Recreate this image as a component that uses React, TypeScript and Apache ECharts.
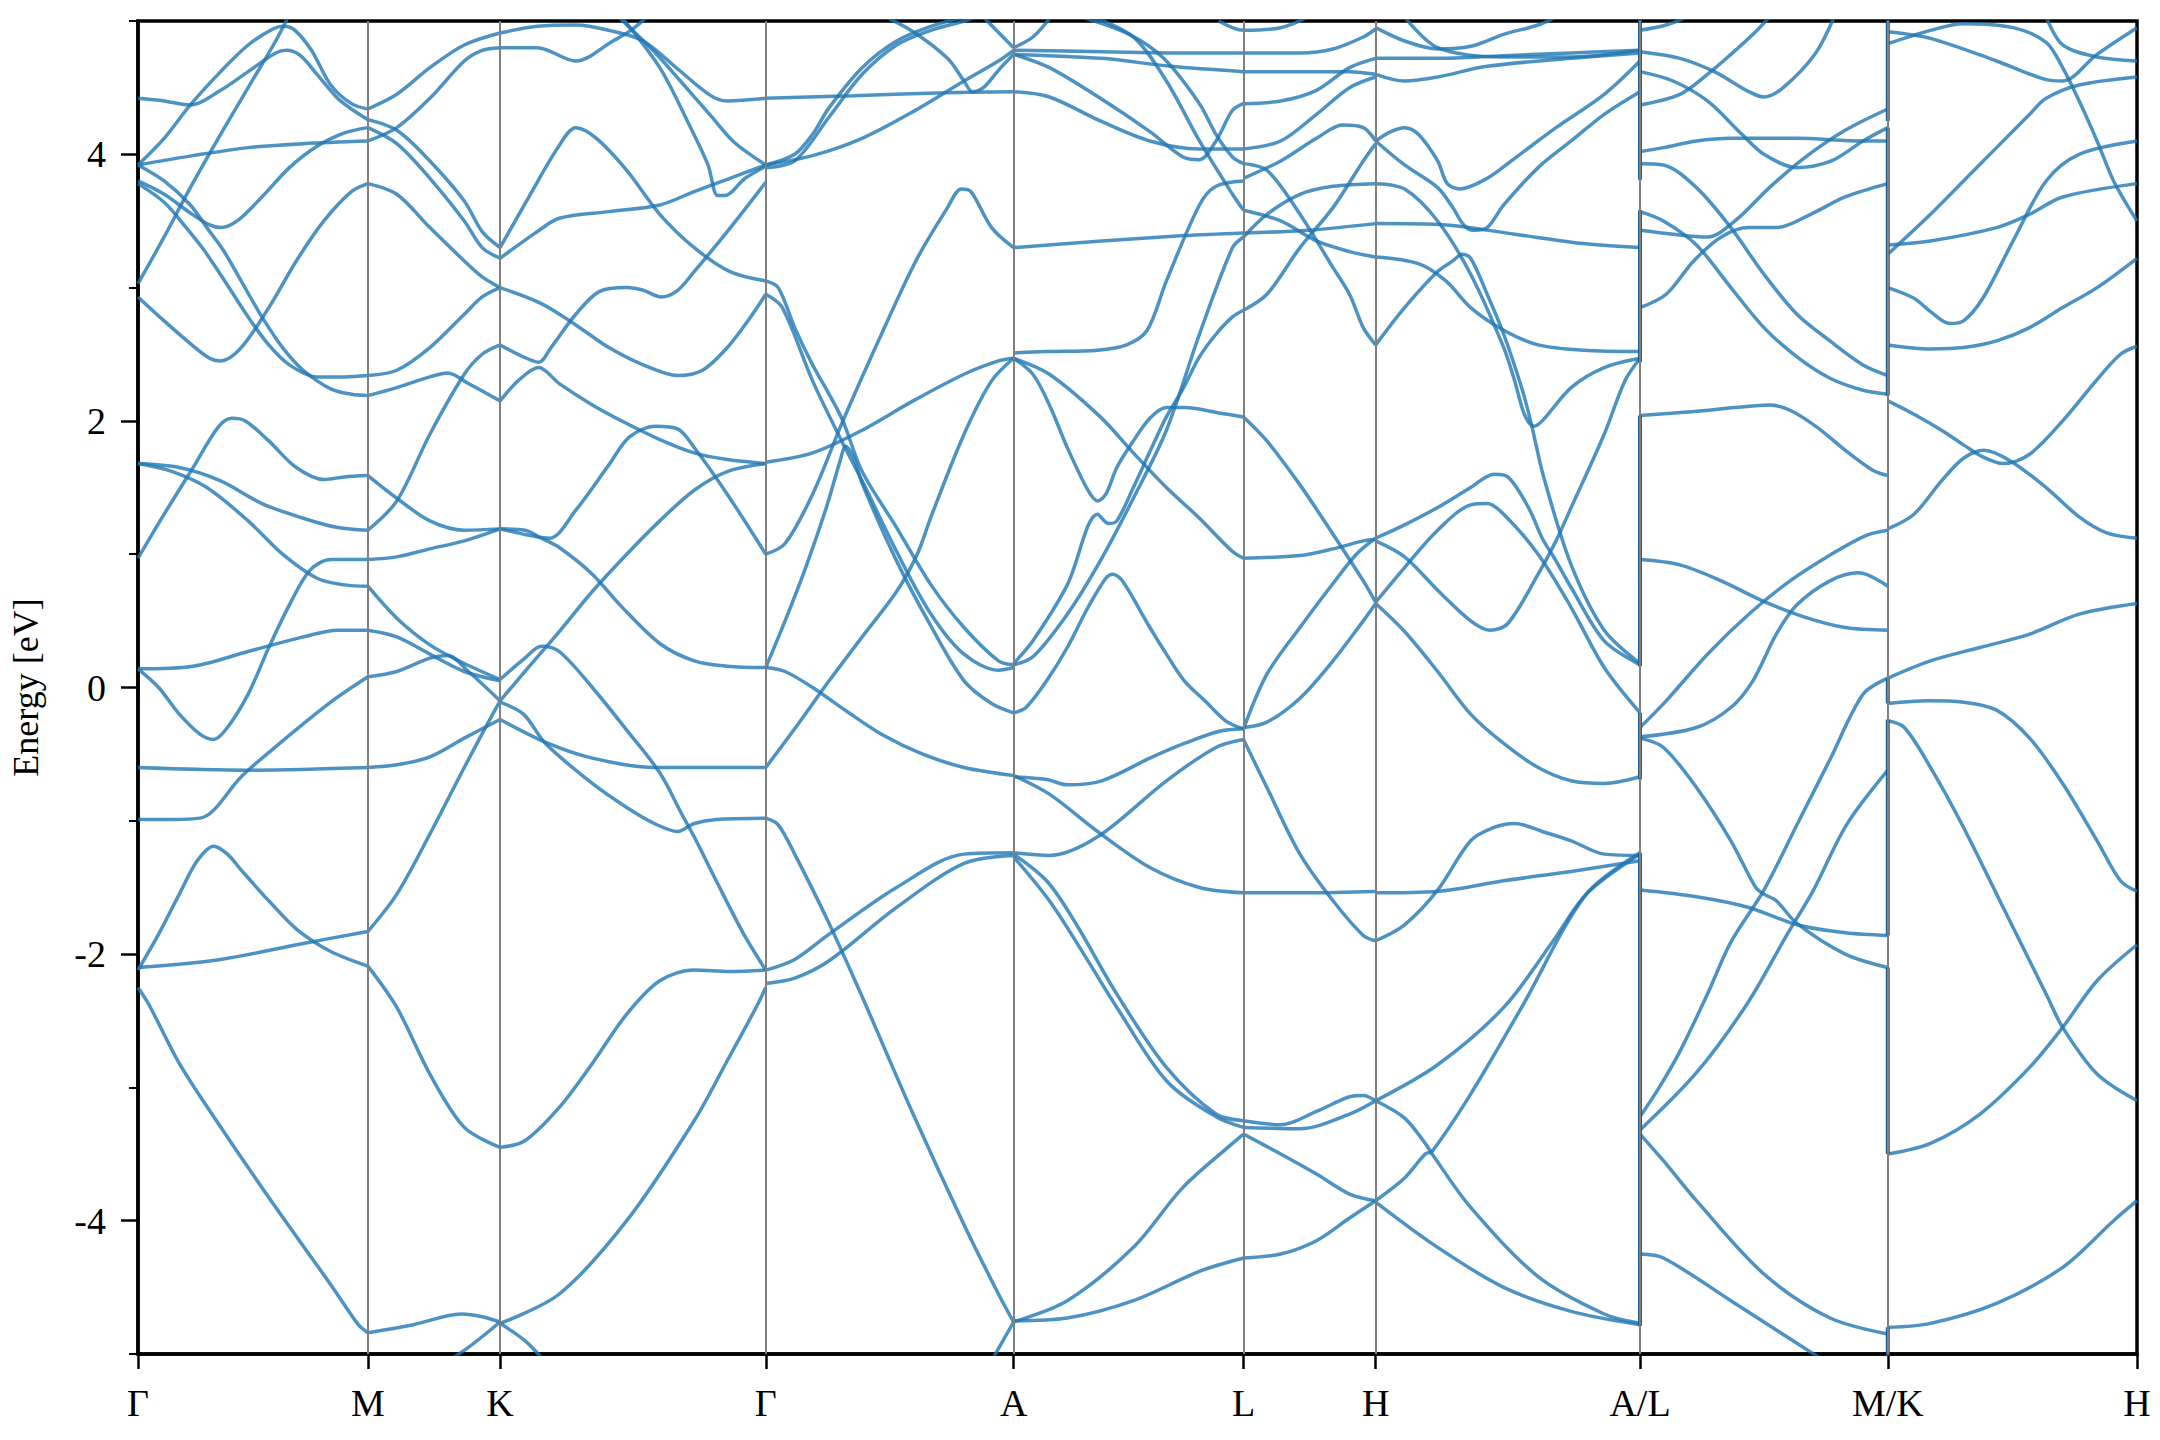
import React, { useEffect, useRef } from 'react';
import * as echarts from 'echarts';

// k-path positions of the high-symmetry points and their labels
const kTicks = [0, 167, 263, 456, 636, 803, 899, 1091, 1271, 1452];
const kLabels = ['Γ', 'M', 'K', 'Γ', 'A', 'L', 'H', 'A/L', 'M/K', 'H'];
const yMajor = [-4, -2, 0, 2, 4];
const yMinor = [-5, -3, -1, 1, 3, 5];

// Band curves, segment by segment: each curve is a list of [k, energy (eV)]
const bandsGammaM = [
  [[0,4.42],[19,4.40],[38,4.37],[60,4.48],[80,4.62],[100,4.76],[108,4.78],[118,4.74],[130,4.6],[145,4.42],[155,4.34],[167,4.26]],
  [[0,3.92],[19,4.12],[38,4.37],[60,4.62],[80,4.82],[98,4.94],[106,4.96],[114,4.93],[126,4.78],[140,4.52],[155,4.38],[167,4.34]],
  [[0,3.92],[40,3.99],[80,4.05],[120,4.08],[167,4.10]],
  [[0,3.80],[19,3.70],[38,3.56],[52,3.47],[60,3.45],[72,3.5],[90,3.68],[110,3.9],[130,4.06],[150,4.16],[167,4.20]],
  [[0,3.92],[19,3.80],[38,3.62],[50,3.45],[62,3.28],[76,3.03],[90,2.78],[105,2.55],[120,2.38],[140,2.24],[155,2.2],[167,2.19]],
  [[0,3.78],[19,3.64],[35,3.45],[48,3.28],[63,3.05],[80,2.78],[95,2.57],[110,2.42],[130,2.33],[150,2.33],[167,2.34]],
  [[0,3.03],[19,3.38],[38,3.75],[60,4.15],[80,4.5],[100,4.85],[110,5.05]],
  [[0,2.93],[19,2.75],[38,2.58],[52,2.47],[60,2.45],[75,2.55],[95,2.85],[115,3.2],[135,3.5],[155,3.72],[167,3.78]],
  [[0,1.68],[30,1.65],[60,1.55],[90,1.38],[120,1.27],[145,1.2],[167,1.18]],
  [[0,1.68],[25,1.62],[50,1.5],[80,1.25],[105,1.0],[130,0.82],[150,0.77],[167,0.76]],
  [[0,0.97],[19,1.3],[40,1.65],[58,1.95],[68,2.02],[78,2.0],[95,1.85],[115,1.65],[135,1.56],[150,1.58],[167,1.59]],
  [[0,0.14],[40,0.16],[80,0.27],[120,0.38],[145,0.43],[167,0.43]],
  [[0,0.14],[15,0.0],[30,-0.2],[45,-0.35],[55,-0.39],[65,-0.3],[80,-0.05],[95,0.3],[110,0.62],[125,0.88],[140,0.96],[167,0.96]],
  [[0,-0.99],[25,-0.99],[45,-0.98],[55,-0.92],[75,-0.67],[104,-0.41],[140,-0.11],[167,0.08]],
  [[0,-0.6],[80,-0.62],[167,-0.6]],
  [[0,-2.12],[15,-1.85],[30,-1.55],[43,-1.3],[55,-1.19],[65,-1.25],[75,-1.37],[95,-1.6],[116,-1.82],[140,-1.98],[167,-2.09]],
  [[0,-2.1],[60,-2.04],[120,-1.92],[167,-1.83]],
  [[0,-2.25],[8,-2.38],[30,-2.82],[55,-3.22],[100,-3.9],[140,-4.48],[160,-4.78],[167,-4.84]],
];

const bandsMK = [
  [[167,4.34],[188,4.45],[212,4.65],[237,4.82],[263,4.91]],
  [[167,4.10],[188,4.2],[212,4.42],[237,4.7],[250,4.78],[263,4.80]],
  [[167,4.26],[188,4.18],[212,3.95],[237,3.65],[250,3.42],[263,3.30]],
  [[167,4.20],[188,4.08],[212,3.82],[237,3.5],[250,3.3],[263,3.22]],
  [[167,3.78],[188,3.7],[212,3.45],[237,3.2],[250,3.08],[263,3.0]],
  [[167,2.34],[188,2.38],[212,2.55],[237,2.8],[250,2.93],[263,3.0]],
  [[167,2.19],[188,2.25],[212,2.33],[225,2.36],[240,2.28],[263,2.15]],
  [[167,1.59],[188,1.42],[212,1.25],[237,1.18],[263,1.19]],
  [[167,1.18],[188,1.4],[212,1.9],[237,2.35],[250,2.5],[263,2.57]],
  [[167,0.96],[188,0.98],[212,1.04],[237,1.1],[263,1.19]],
  [[167,0.76],[188,0.52],[212,0.32],[237,0.18],[263,0.06]],
  [[167,0.43],[188,0.38],[212,0.25],[237,0.12],[263,0.05]],
  [[167,0.08],[188,0.12],[212,0.22],[225,0.24],[240,0.12],[263,-0.1]],
  [[167,-0.6],[188,-0.58],[212,-0.52],[237,-0.38],[263,-0.24]],
  [[167,-1.83],[188,-1.55],[212,-1.1],[237,-0.6],[255,-0.25],[263,-0.1]],
  [[167,-2.09],[188,-2.4],[212,-2.9],[237,-3.3],[263,-3.45]],
  [[167,-4.84],[200,-4.78],[235,-4.7],[250,-4.72],[263,-4.76]],
  [[218,-5.1],[240,-4.95],[263,-4.76]],
];

const bandsKGamma = [
  [[263,4.91],[290,4.96],[318,4.97],[342,4.93],[367,4.85],[392,4.64],[416,4.44],[428,4.4],[456,4.42]],
  [[263,4.80],[290,4.8],[318,4.7],[345,4.85],[358,4.93],[372,5.05]],
  [[350,5.02],[374,4.78],[394,4.55],[416,4.29],[433,4.09],[456,3.92]],
  [[352,5.02],[379,4.65],[399,4.25],[414,3.92],[421,3.69],[426,3.69],[441,3.82],[456,3.91]],
  [[263,3.30],[285,3.7],[305,4.05],[318,4.2],[333,4.12],[355,3.88],[379,3.55],[404,3.3],[430,3.12],[456,3.05]],
  [[263,3.22],[290,3.42],[306,3.52],[342,3.57],[379,3.62],[404,3.72],[430,3.82],[456,3.92]],
  [[263,3.0],[293,2.88],[318,2.72],[342,2.55],[367,2.42],[392,2.34],[410,2.38],[428,2.55],[445,2.78],[456,2.95]],
  [[263,2.57],[278,2.49],[291,2.44],[300,2.55],[318,2.8],[335,2.97],[355,3.0],[367,2.98],[380,2.93],[392,2.98],[404,3.12],[428,3.42],[456,3.79]],
  [[263,2.15],[276,2.3],[291,2.4],[306,2.28],[330,2.12],[355,1.98],[379,1.86],[404,1.76],[428,1.71],[456,1.68]],
  [[263,1.19],[281,1.18],[293,1.12],[306,1.05],[330,0.85],[350,0.62],[379,0.33],[404,0.2],[428,0.16],[456,0.15]],
  [[263,1.19],[285,1.14],[299,1.12],[318,1.33],[342,1.67],[357,1.88],[376,1.96],[392,1.94],[404,1.8],[428,1.45],[456,1.0]],
  [[263,-0.11],[280,-0.2],[296,-0.42],[330,-0.72],[355,-0.9],[375,-1.02],[392,-1.08],[404,-1.02],[420,-0.99],[456,-0.98]],
  [[263,-0.24],[298,-0.42],[330,-0.53],[375,-0.6],[420,-0.6],[456,-0.6]],
  [[263,0.06],[281,0.22],[293,0.31],[306,0.27],[330,0.0],[355,-0.32],[379,-0.64],[395,-0.95],[404,-1.12],[420,-1.45],[440,-1.85],[456,-2.12]],
  [[263,-3.45],[281,-3.4],[306,-3.15],[330,-2.82],[355,-2.45],[379,-2.2],[404,-2.12],[430,-2.13],[456,-2.12]],
  [[263,-4.77],[306,-4.55],[355,-4.0],[404,-3.25],[428,-2.8],[450,-2.38],[456,-2.25]],
  [[263,-4.77],[281,-4.9],[295,-5.05]],
  [[263,-0.1],[281,0.12],[306,0.42],[330,0.72],[355,1.0],[379,1.25],[404,1.48],[428,1.62],[456,1.68]],
];

const bandsGammaA = [
  [[456,4.42],[520,4.44],[580,4.46],[636,4.47]],
  [[456,3.92],[477,4.0],[490,4.15],[502,4.35],[526,4.65],[551,4.85],[576,4.96],[600,5.03]],
  [[456,3.90],[477,3.95],[502,4.28],[526,4.6],[551,4.82],[576,4.93],[600,5.0],[615,5.05]],
  [[456,3.92],[490,3.99],[526,4.12],[563,4.32],[600,4.55],[625,4.7],[636,4.78]],
  [[539,5.05],[563,4.92],[588,4.72],[600,4.55],[606,4.47],[614,4.5],[625,4.63],[636,4.75]],
  [[614,5.03],[636,4.8]],
  [[456,3.05],[465,3.0],[477,2.7],[490,2.42],[502,2.2],[512,2.0],[526,1.62],[551,1.2],[576,0.77],[600,0.45],[625,0.2],[636,0.17]],
  [[456,2.95],[468,2.85],[490,2.3],[512,1.83],[526,1.55],[551,1.02],[576,0.55],[600,0.25],[625,0.13],[636,0.15]],
  [[456,1.69],[490,1.76],[526,1.93],[563,2.15],[600,2.35],[625,2.45],[636,2.47]],
  [[456,1.0],[470,1.08],[490,1.45],[512,2.0],[540,2.65],[565,3.2],[588,3.6],[598,3.74],[605,3.72],[620,3.45],[636,3.3]],
  [[456,0.15],[470,0.12],[490,0.0],[515,-0.18],[540,-0.35],[570,-0.5],[600,-0.6],[636,-0.66]],
  [[456,-0.6],[477,-0.31],[502,0.05],[526,0.38],[551,0.72],[566,1.0],[576,1.28],[600,1.9],[620,2.3],[636,2.47]],
  [[456,0.15],[470,0.5],[485,0.9],[500,1.35],[510,1.7],[514,1.81],[520,1.72],[526,1.53],[551,0.95],[576,0.46],[600,0.05],[620,-0.12],[636,-0.19]],
  [[456,-0.98],[465,-1.03],[477,-1.25],[502,-1.77],[526,-2.32],[563,-3.2],[600,-4.03],[625,-4.55],[636,-4.76]],
  [[456,-2.12],[477,-2.04],[502,-1.85],[551,-1.5],[600,-1.25],[636,-1.24]],
  [[456,-2.22],[477,-2.18],[502,-2.05],[551,-1.65],[600,-1.32],[636,-1.26]],
  [[620,-5.05],[636,-4.76]],
];

const bandsAL = [
  [[636,4.78],[700,4.77],[760,4.76],[803,4.76]],
  [[636,4.75],[700,4.72],[750,4.66],[803,4.62]],
  [[636,4.8],[650,4.88],[663,5.03]],
  [[636,4.47],[662,4.43],[699,4.25],[735,4.1],[771,4.04],[803,4.04]],
  [[636,4.75],[662,4.65],[699,4.42],[735,4.17],[759,3.98],[771,3.96],[783,4.1],[795,4.33],[803,4.38]],
  [[685,5.03],[720,4.9],[745,4.72],[771,4.38],[783,4.15],[795,3.98],[803,3.93]],
  [[694,5.03],[723,4.88],[747,4.55],[771,4.1],[795,3.7],[803,3.58]],
  [[636,3.3],[700,3.35],[760,3.39],[803,3.41]],
  [[636,2.51],[660,2.52],[697,2.53],[718,2.57],[733,2.68],[747,3.05],[771,3.62],[783,3.76],[803,3.8]],
  [[636,2.47],[662,2.35],[699,2.03],[723,1.76],[747,1.5],[771,1.27],[795,1.02],[803,0.97]],
  [[636,2.47],[650,2.35],[662,2.12],[675,1.8],[690,1.48],[697,1.4],[703,1.45],[711,1.65],[723,1.85],[735,2.02],[747,2.1],[760,2.1],[785,2.06],[803,2.03]],
  [[636,0.18],[650,0.35],[675,0.77],[697,1.3],[705,1.23],[711,1.25],[723,1.5],[735,1.77],[747,2.03],[759,2.24],[771,2.48],[783,2.65],[795,2.78],[803,2.83]],
  [[636,0.17],[650,0.23],[675,0.55],[699,0.95],[723,1.42],[747,1.93],[771,2.65],[795,3.3],[803,3.38]],
  [[636,-0.19],[645,-0.15],[660,0.05],[675,0.3],[690,0.6],[703,0.82],[708,0.85],[715,0.8],[735,0.45],[747,0.25],[760,0.05],[775,-0.1],[790,-0.25],[803,-0.31]],
  [[636,-0.67],[660,-0.69],[675,-0.73],[700,-0.7],[735,-0.53],[760,-0.42],[785,-0.33],[803,-0.31]],
  [[636,-0.66],[662,-0.8],[697,-1.08],[735,-1.35],[771,-1.5],[803,-1.54]],
  [[636,-1.24],[662,-1.26],[697,-1.12],[747,-0.7],[783,-0.45],[803,-0.39]],
  [[636,-1.25],[660,-1.45],[680,-1.75],[711,-2.3],[747,-2.85],[783,-3.2],[803,-3.25]],
  [[636,-1.27],[662,-1.6],[687,-2.0],[711,-2.4],[747,-2.95],[783,-3.22],[803,-3.3]],
  [[636,-4.75],[675,-4.73],[723,-4.6],[771,-4.38],[803,-4.28]],
  [[636,-4.76],[675,-4.6],[723,-4.2],[759,-3.75],[795,-3.42],[803,-3.35]],
];

const bandsLH = [
  [[785,5.0],[803,4.93],[830,4.95],[850,5.03]],
  [[803,4.76],[844,4.76],[868,4.79],[890,4.88],[899,4.94]],
  [[803,4.62],[850,4.62],[880,4.62],[899,4.6]],
  [[803,4.38],[830,4.4],[856,4.48],[880,4.65],[899,4.72]],
  [[803,4.04],[830,4.1],[856,4.3],[880,4.5],[899,4.58]],
  [[803,3.82],[830,3.95],[856,4.12],[875,4.22],[890,4.2],[899,4.1]],
  [[803,3.93],[820,3.88],[844,3.55],[868,3.15],[880,2.95],[890,2.7],[899,2.57]],
  [[803,3.58],[830,3.5],[856,3.35],[880,3.27],[899,3.23]],
  [[803,3.41],[850,3.43],[899,3.48]],
  [[803,3.38],[820,3.55],[844,3.7],[868,3.76],[899,3.78]],
  [[803,2.83],[820,2.95],[844,3.3],[868,3.6],[890,3.95],[899,4.08]],
  [[803,2.03],[820,1.85],[844,1.52],[868,1.15],[890,0.8],[899,0.64]],
  [[803,0.97],[844,0.99],[868,1.04],[890,1.1],[899,1.11]],
  [[803,-0.31],[820,0.1],[844,0.45],[868,0.78],[885,1.0],[899,1.12]],
  [[803,-0.39],[820,-0.75],[844,-1.25],[868,-1.6],[890,-1.86],[899,-1.9]],
  [[803,-0.3],[820,-0.26],[844,-0.08],[868,0.2],[890,0.5],[899,0.63]],
  [[803,-1.54],[850,-1.54],[899,-1.53]],
  [[803,-3.25],[830,-3.28],[856,-3.18],[880,-3.07],[890,-3.06],[899,-3.1]],
  [[803,-3.3],[844,-3.31],[880,-3.2],[899,-3.1]],
  [[803,-3.35],[830,-3.5],[856,-3.65],[880,-3.8],[899,-3.85]],
  [[803,-4.28],[830,-4.25],[856,-4.15],[880,-3.98],[899,-3.85]],
];

const bandsHA = [
  [[899,4.95],[920,4.85],[944,4.79],[968,4.81],[992,4.9],[1017,4.97],[1030,5.03]],
  [[920,5.03],[944,4.8],[992,4.73],[1041,4.73],[1091,4.78]],
  [[899,4.72],[944,4.72],[992,4.74],[1041,4.76],[1091,4.78]],
  [[899,4.6],[920,4.55],[944,4.58],[980,4.66],[1041,4.72],[1091,4.76]],
  [[899,4.1],[910,4.17],[920,4.2],[930,4.15],[944,3.95],[951,3.78],[960,3.74],[980,3.82],[1000,3.97],[1030,4.2],[1065,4.45],[1091,4.7]],
  [[899,4.1],[920,3.92],[944,3.75],[955,3.6],[963,3.47],[970,3.43],[980,3.45],[992,3.62],[1017,3.9],[1041,4.1],[1065,4.3],[1091,4.47]],
  [[899,3.78],[920,3.74],[944,3.5],[968,3.1],[992,2.55],[1000,2.3],[1007,2.05],[1014,1.96],[1020,2.0],[1041,2.25],[1065,2.4],[1091,2.47]],
  [[899,2.57],[920,2.85],[944,3.12],[955,3.2],[962,3.25],[968,3.22],[980,2.95],[992,2.65],[1005,2.25],[1012,1.98],[1021,1.58],[1041,0.92],[1065,0.43],[1091,0.18]],
  [[899,3.23],[930,3.18],[950,3.05],[968,2.85],[992,2.68],[1017,2.57],[1050,2.53],[1091,2.52]],
  [[899,3.48],[950,3.47],[1000,3.4],[1050,3.33],[1091,3.3]],
  [[899,1.12],[920,1.22],[944,1.35],[968,1.5],[985,1.6],[995,1.58],[1010,1.35],[1020,1.12],[1030,0.95],[1041,0.75],[1065,0.35],[1091,0.17]],
  [[899,1.1],[920,0.98],[944,0.73],[968,0.5],[982,0.43],[995,0.48],[1017,0.85],[1030,1.1],[1041,1.35],[1065,1.9],[1080,2.3],[1091,2.47]],
  [[899,0.64],[920,0.9],[944,1.18],[968,1.37],[980,1.38],[992,1.3],[1017,1.0],[1041,0.6],[1065,0.15],[1091,-0.19]],
  [[899,0.63],[920,0.42],[944,0.12],[968,-0.2],[992,-0.42],[1017,-0.6],[1041,-0.7],[1065,-0.72],[1091,-0.67]],
  [[899,-3.1],[944,-2.83],[992,-2.4],[1028,-1.9],[1052,-1.55],[1091,-1.25]],
  [[899,-3.85],[920,-3.68],[935,-3.5],[940,-3.48],[968,-3.05],[1005,-2.4],[1052,-1.55],[1091,-1.24]],
  [[899,-3.1],[920,-3.23],[935,-3.42],[940,-3.5],[968,-3.9],[1017,-4.42],[1065,-4.7],[1091,-4.77]],
  [[899,-3.86],[944,-4.2],[992,-4.5],[1041,-4.68],[1091,-4.78]],
  [[899,-1.9],[920,-1.78],[944,-1.52],[968,-1.15],[985,-1.05],[1000,-1.02],[1020,-1.08],[1041,-1.15],[1065,-1.25],[1091,-1.26]],
  [[899,-1.54],[944,-1.53],[992,-1.45],[1041,-1.38],[1091,-1.3]],
];

const bandsLM = [
  [[1091,4.93],[1110,4.97],[1125,5.03]],
  [[1091,4.77],[1120,4.72],[1145,4.62],[1170,4.47],[1181,4.43],[1195,4.5],[1218,4.75],[1232,5.03]],
  [[1091,4.37],[1120,4.45],[1140,4.6],[1157,4.75],[1175,4.92],[1185,5.03]],
  [[1091,4.62],[1115,4.55],[1140,4.4],[1165,4.15],[1181,4.0],[1205,3.9],[1230,3.95],[1253,4.1],[1271,4.2]],
  [[1091,4.02],[1108,4.05],[1132,4.1],[1157,4.12],[1205,4.12],[1253,4.1],[1271,4.1]],
  [[1091,3.93],[1108,3.92],[1132,3.75],[1157,3.45],[1181,3.1],[1205,2.8],[1229,2.6],[1253,2.42],[1271,2.34]],
  [[1091,3.57],[1108,3.5],[1132,3.32],[1157,3.0],[1181,2.7],[1205,2.48],[1229,2.32],[1253,2.23],[1271,2.2]],
  [[1091,3.43],[1115,3.4],[1140,3.38],[1160,3.5],[1185,3.75],[1210,3.97],[1240,4.18],[1271,4.34]],
  [[1091,2.85],[1110,2.95],[1130,3.2],[1150,3.38],[1170,3.45],[1190,3.45],[1215,3.55],[1240,3.68],[1271,3.78]],
  [[1091,2.04],[1130,2.07],[1160,2.1],[1185,2.12],[1200,2.08],[1220,1.95],[1240,1.78],[1260,1.63],[1271,1.59]],
  [[1091,0.96],[1120,0.92],[1150,0.8],[1180,0.65],[1210,0.53],[1240,0.45],[1271,0.43]],
  [[1091,-0.37],[1132,-0.3],[1157,-0.15],[1173,0.05],[1190,0.4],[1205,0.62],[1229,0.8],[1250,0.86],[1271,0.76]],
  [[1091,-0.3],[1110,-0.1],[1140,0.25],[1170,0.55],[1200,0.8],[1230,1.0],[1255,1.14],[1271,1.18]],
  [[1091,-0.38],[1108,-0.45],[1132,-0.75],[1157,-1.15],[1175,-1.5],[1181,-1.55],[1190,-1.6],[1205,-1.77],[1240,-2.0],[1271,-2.1]],
  [[1091,-3.22],[1105,-3.0],[1120,-2.73],[1140,-2.3],[1157,-1.91],[1181,-1.52],[1205,-1.03],[1229,-0.54],[1253,-0.05],[1271,0.07]],
  [[1091,-3.32],[1132,-2.89],[1169,-2.37],[1198,-1.85],[1217,-1.52],[1241,-1.03],[1271,-0.62]],
  [[1091,-1.52],[1132,-1.57],[1170,-1.65],[1205,-1.78],[1240,-1.84],[1271,-1.86]],
  [[1091,-3.35],[1108,-3.55],[1132,-3.85],[1181,-4.4],[1229,-4.73],[1271,-4.85]],
  [[1091,-4.25],[1108,-4.28],[1157,-4.6],[1205,-4.92],[1225,-5.05]],
];

const bandsKH = [
  [[1271,4.92],[1302,4.87],[1350,4.7],[1386,4.56],[1398,4.55],[1423,4.75],[1452,4.95]],
  [[1271,4.83],[1302,4.93],[1326,4.98],[1362,4.95],[1386,4.84],[1398,4.65],[1410,4.4],[1423,4.1],[1435,3.8],[1452,3.5]],
  [[1386,5.03],[1398,4.82],[1423,4.73],[1452,4.7]],
  [[1271,3.25],[1302,3.55],[1326,3.8],[1350,4.05],[1374,4.3],[1386,4.42],[1410,4.52],[1452,4.58]],
  [[1271,3.32],[1302,3.35],[1350,3.45],[1374,3.55],[1398,3.68],[1452,3.78]],
  [[1271,3.0],[1290,2.92],[1302,2.82],[1316,2.73],[1326,2.75],[1340,2.92],[1362,3.35],[1386,3.8],[1410,4.0],[1452,4.1]],
  [[1271,2.57],[1302,2.54],[1326,2.55],[1350,2.6],[1374,2.7],[1398,2.85],[1423,3.0],[1452,3.22]],
  [[1271,2.15],[1290,2.05],[1310,1.93],[1326,1.82],[1340,1.73],[1355,1.68],[1374,1.75],[1398,2.0],[1423,2.31],[1440,2.5],[1452,2.56]],
  [[1271,1.19],[1290,1.3],[1310,1.55],[1326,1.72],[1341,1.78],[1360,1.7],[1386,1.5],[1410,1.28],[1430,1.16],[1452,1.12]],
  [[1271,-0.12],[1300,-0.1],[1326,-0.11],[1350,-0.17],[1374,-0.38],[1398,-0.72],[1423,-1.15],[1440,-1.45],[1452,-1.53]],
  [[1271,-0.25],[1283,-0.3],[1302,-0.6],[1326,-1.05],[1350,-1.55],[1374,-2.05],[1386,-2.3],[1398,-2.55],[1423,-2.9],[1452,-3.1]],
  [[1271,-3.5],[1302,-3.42],[1338,-3.2],[1374,-2.85],[1398,-2.55],[1423,-2.2],[1452,-1.93]],
  [[1271,-4.8],[1302,-4.77],[1350,-4.62],[1398,-4.35],[1435,-4.0],[1452,-3.85]],
  [[1271,0.07],[1302,0.2],[1338,0.3],[1374,0.4],[1410,0.55],[1452,0.63]],
];

// Vertical jumps drawn at the path discontinuities A|L and M|K
const jumpsAL = [
  [[1091,5.05],[1091,3.81]],
  [[1091,3.58],[1091,2.44]],
  [[1091,2.04],[1091,0.16]],
  [[1091,-0.19],[1091,-0.69]],
  [[1091,-1.24],[1091,-4.79]],
];
const jumpsMK = [
  [[1271,5.05],[1271,4.25]],
  [[1271,4.2],[1271,2.19]],
  [[1271,0.07],[1271,-0.12]],
  [[1271,-0.24],[1271,-1.86]],
  [[1271,-2.1],[1271,-3.5]],
  [[1271,-4.8],[1271,-5.05]],
];

const SERIF = '"Liberation Serif", "DejaVu Serif", serif';
const BAND_COLOR = 'rgba(31,119,180,0.8)';
const JUMP_COLOR = 'rgba(20,85,140,0.95)';

export default function App() {
  const ref = useRef<HTMLDivElement>(null);

  useEffect(() => {
    if (!ref.current) return;
    const chart = echarts.init(ref.current, null, { renderer: 'svg' });

    const curves = [
      ...bandsGammaM, ...bandsMK, ...bandsKGamma, ...bandsGammaA,
      ...bandsAL, ...bandsLH, ...bandsHA, ...bandsLM, ...bandsKH,
    ];

    const series: any[] = [];
    series.push({
      type: 'line',
      data: [],
      silent: true,
      z: 1,
      markLine: {
        silent: true,
        symbol: ['none', 'none'],
        label: { show: false },
        lineStyle: { color: '#808080', width: 2, type: 'solid', opacity: 1 },
        emphasis: { disabled: true },
        data: kTicks.slice(1, -1).map((v) => ({ xAxis: v })),
        animation: false,
      },
    });
    curves.forEach((c) => {
      series.push({
        type: 'line',
        data: c,
        showSymbol: false,
        symbol: 'none',
        smooth: 0.32,
        clip: true,
        silent: true,
        z: 3,
        lineStyle: { color: BAND_COLOR, width: 3.5 },
        emphasis: { disabled: true },
      });
    });
    [...jumpsAL, ...jumpsMK].forEach((c) => {
      series.push({
        type: 'line',
        data: c,
        showSymbol: false,
        symbol: 'none',
        smooth: false,
        clip: true,
        silent: true,
        z: 4,
        lineStyle: { color: JUMP_COLOR, width: 4 },
        emphasis: { disabled: true },
      });
    });

    chart.setOption({
      animation: false,
      backgroundColor: '#ffffff',
      grid: {
        left: 136, right: 23, top: 21, bottom: 86,
        show: true, borderColor: '#000', borderWidth: 3.5, backgroundColor: 'transparent',
      },
      xAxis: {
        type: 'value',
        min: 0,
        max: 1452,
        axisLine: { show: true, onZero: false, lineStyle: { color: '#000', width: 3.5 } },
        axisTick: {
          show: true, customValues: kTicks, length: 15,
          lineStyle: { color: '#000', width: 2.5 },
        },
        axisLabel: {
          show: true, customValues: kTicks, margin: 30,
          fontFamily: SERIF, fontSize: 38, color: '#000',
          formatter: (v: number) => {
            const i = kTicks.indexOf(Math.round(v));
            return i >= 0 ? kLabels[i] : '';
          },
        },
        splitLine: { show: false },
      },
      yAxis: [
        {
          type: 'value',
          min: -5,
          max: 5,
          name: 'Energy [eV]',
          nameLocation: 'middle',
          nameGap: 94,
          nameRotate: 90,
          nameTextStyle: { fontFamily: SERIF, fontSize: 36, color: '#000' },
          axisLine: { show: true, onZero: false, lineStyle: { color: '#000', width: 3.5 } },
          axisTick: {
            show: true, customValues: yMajor, length: 17,
            lineStyle: { color: '#000', width: 2.5 },
          },
          axisLabel: {
            show: true, customValues: yMajor, margin: 32,
            fontFamily: SERIF, fontSize: 38, color: '#000',
            formatter: (v: number) => String(v),
          },
          splitLine: { show: false },
        },
        {
          type: 'value',
          min: -5,
          max: 5,
          position: 'left',
          axisLine: { show: false, onZero: false },
          axisTick: {
            show: true, customValues: yMinor, length: 9,
            lineStyle: { color: '#000', width: 2 },
          },
          axisLabel: { show: false },
          splitLine: { show: false },
        },
      ],
      series,
    });

    return () => chart.dispose();
  }, []);

  return (
    <div
      ref={ref}
      style={{ position: 'fixed', left: 0, top: 0, width: 2160, height: 1440, background: '#fff' }}
    />
  );
}
